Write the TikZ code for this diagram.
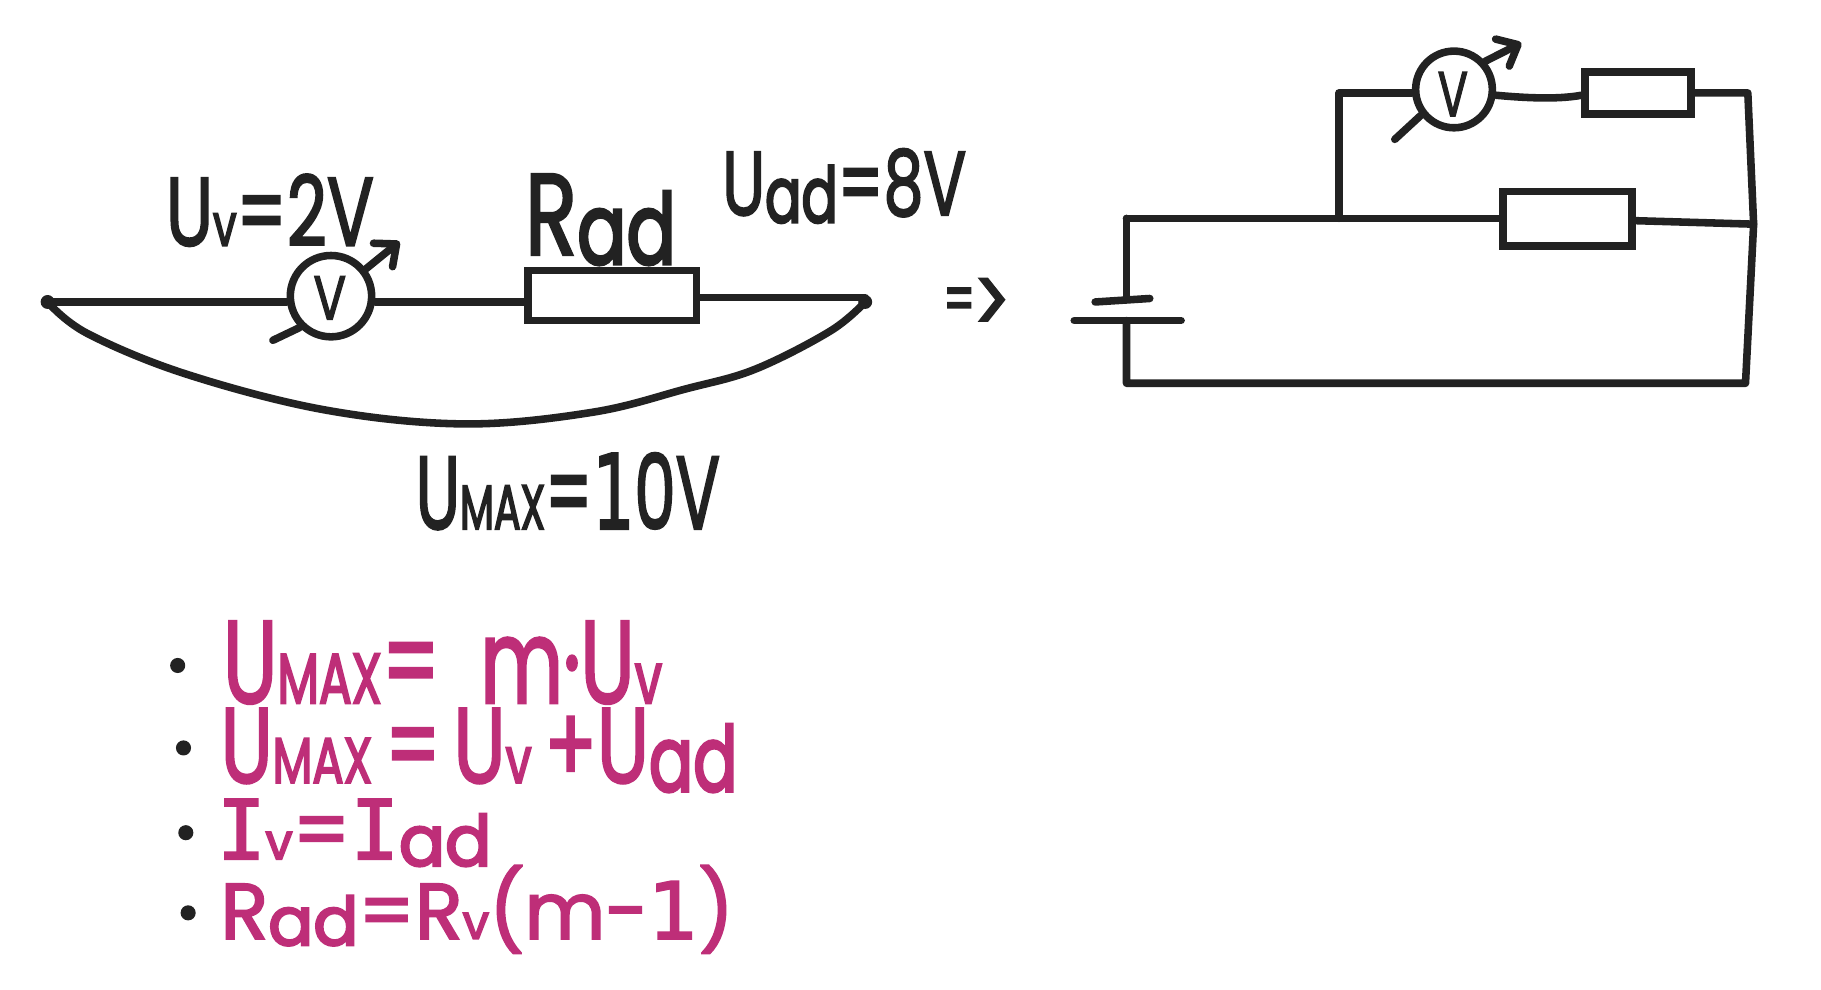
\documentclass[tikz,border=0pt]{standalone}
\usepackage{fontspec}
\usepackage{graphicx}
\setmainfont{Poppins}[FakeBold=2.4]
\newfontfamily\thicksub{Poppins}[FakeBold=3.6]
\newfontfamily\slab{DejaVu Sans Mono}[FakeBold=2.4]
\newfontfamily\baseone{DejaVu Sans}[FakeBold=2.4]
\usetikzlibrary{arrows.meta}
\definecolor{ink}{HTML}{222222}
\definecolor{rose}{HTML}{BE2E78}
\newlength\hu \setlength\hu{0.01cm}
\newcommand\lo[1]{\scalebox{.6}{\thicksub #1}}
\newcommand\ad{\raisebox{-.08em}{\scalebox{.85}{\thicksub ad}}}
\newcommand\hw[7]{\node[handtext,text=#1,anchor=north west] (#2) at (#3,#4) {\resizebox*{#5\hu}{#6\hu}{#7}};}
\tikzset{
  handtext/.style={inner sep=0pt,outer sep=0pt},
  wire/.style={draw=ink,line width=0.065cm,line cap=round,line join=round},
  meter/.style={circle,draw=ink,fill=white,line width=0.065cm,minimum size=0.66cm,inner sep=0pt},
  resistor/.style={rectangle,draw=ink,fill=white,line width=0.065cm,inner sep=0pt},
  pointer/.style={wire,-{Straight Barb[length=0.15cm,width=0.26cm,line width=0.065cm,round]}},
  bulletdot/.style={circle,fill=ink,minimum size=0.13cm,inner sep=0pt},
}
\begin{document}
\begin{tikzpicture}[x=0.01cm,y=-0.01cm]
\useasboundingbox[fill=white] (0,0) rectangle (1568,852.4);
% left circuit
\coordinate (t1) at (41,260);
\coordinate (t2) at (745,260);
\node[meter,minimum size=0.7cm] (vm1) at (285,255) {};
\node[resistor,minimum width=1.45cm,minimum height=0.43cm] (r1) at (527,254.5) {};
\draw[wire] (t1) -- (vm1.west |- t1);
\draw[wire] (vm1.east |- 0,260) -- (r1.west |- 0,260);
\draw[wire] (r1.east |- 0,256) -- (t2 |- 0,256) -- (t2);
\draw[wire] plot[smooth,tension=0.6] coordinates {(t1) (75,287) (160,322) (280,353) (400,365) (510,355) (590,335) (650,318) (715,285) (t2)};
\fill[ink] (t1) circle (6);
\fill[ink] (t2) circle (6);
\coordinate (a1) at (235,293);
\coordinate (b1) at (344,208);
\draw[wire] (a1) -- (vm1.225);
\draw[pointer] (vm1.38) -- (b1);
\hw{ink}{v1}{270}{238}{28}{37}{V}
% labels
\hw{ink}{l1}{143}{150}{179}{62}{U\lo{v}=2V}
\hw{ink}{l2}{452}{150}{130}{78}{R\ad}
\hw{ink}{l3}{622}{128}{210}{64}{U\ad=8V}
\hw{ink}{l4}{358}{390}{262}{66}{U\lo{MAX}={\baseone 1}0V}
\hw{ink}{impl1}{812}{248}{28}{30}{=}
\hw{ink}{impl2}{838}{240}{32}{47}{>}
% right circuit
\coordinate (n1) at (970,188);
\coordinate (n2) at (1153,188);
\coordinate (n3) at (1153,80);
\coordinate (n4) at (1505,80);
\coordinate (n5) at (1510,193);
\coordinate (n6) at (1503,330);
\coordinate (n7) at (970,330);
\coordinate (p1) at (970,258);
\coordinate (p2) at (970,276);
\coordinate (pa) at (943,260);
\coordinate (pb) at (990,257);
\coordinate (pc) at (925,276);
\coordinate (pd) at (1017,276);
\node[meter] (vm2) at (1252,77) {};
\node[resistor,minimum width=0.91cm,minimum height=0.36cm] (r2) at (1410.5,80) {};
\node[resistor,minimum width=1.11cm,minimum height=0.47cm] (r3) at (1349.5,188.5) {};
\draw[wire] (n1) -- (r3.west |- n1);
\draw[wire] (n2) -- (n3) -- (vm2.west |- n3);
\draw[wire] (vm2.east |- 0,82) .. controls (1310,84) and (1340,86) .. (r2.west |- 0,82);
\draw[wire] (r2.east |- n4) -- (n4) -- (n5);
\draw[wire] (r3.east |- 0,190) -- (n5) -- (n6) -- (n7) -- (p2);
\draw[wire] (n1) -- (p1);
\draw[wire] (pa) -- (pb);
\draw[wire] (pc) -- (pd);
\coordinate (a2) at (1201,120);
\coordinate (b2) at (1310,37);
\draw[wire] (a2) -- (vm2.218);
\draw[pointer] (vm2.42) -- (b2);
\hw{ink}{v2}{1238}{62}{26}{38}{V}
% formulas
\node[bulletdot] (d1) at (153,573) {};
\node[bulletdot] (d2) at (158,644) {};
\node[bulletdot] (d3) at (160,717) {};
\node[bulletdot] (d4) at (162,786) {};
\hw{rose}{f1}{192}{535}{378}{71}{U\lo{MAX}=\hspace{.5em}m·U\lo{v}}
\hw{rose}{f2}{190}{610}{445}{72}{U\lo{MAX}\,=\,U\lo{v}\,+U\ad}
\hw{rose}{f3}{187}{688}{236}{58}{{\slab I}\lo{v}={\slab I}\ad}
\hw{rose}{f4}{190}{745}{442}{76}{R\ad=R\lo{v}(m-{\baseone 1})}
\end{tikzpicture}
\end{document}
